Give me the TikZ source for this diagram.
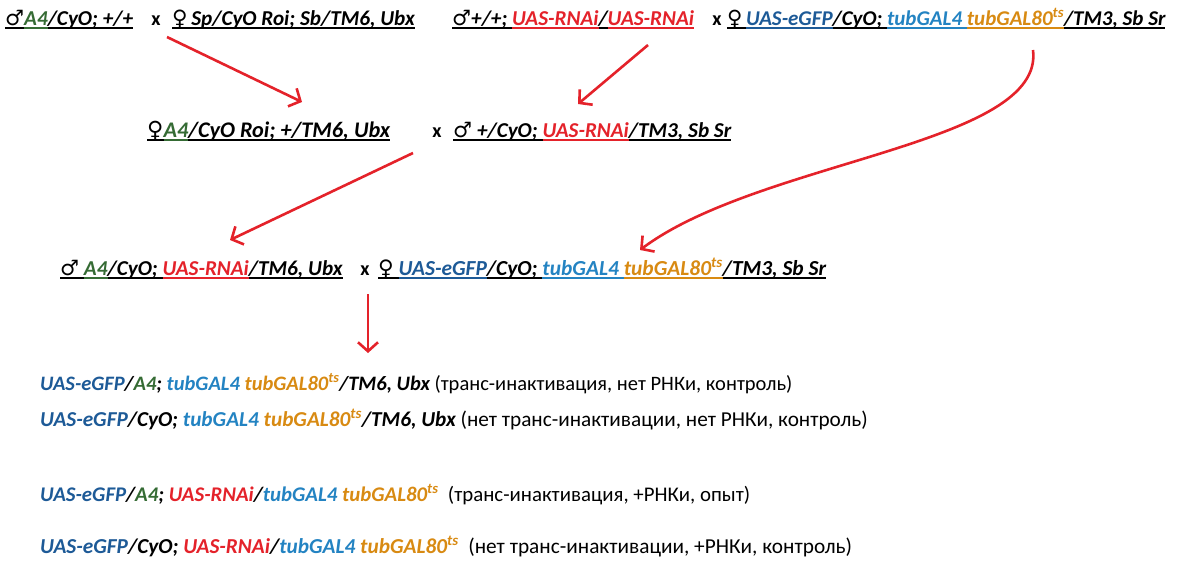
\documentclass[tikz,border=0pt]{standalone}
\usepackage{fontspec}
\setmainfont{Carlito}
\newfontfamily\symfont{DejaVu Sans}
\usetikzlibrary{arrows.meta}
\definecolor{cgreen}{HTML}{356B34}
\definecolor{cred}{HTML}{E4222A}
\definecolor{cdblue}{HTML}{1D5A97}
\definecolor{clblue}{HTML}{2383C2}
\definecolor{corange}{HTML}{D88A12}
\newcommand\ul[1]{\leavevmode\setbox0\hbox{#1}\rlap{\rule[-3.5pt]{\wd0}{1.3pt}}\box0}
\newcommand\sg[2]{{\color{#1}\ul{#2}}}
\newcommand\gmale{{\symfont\mdseries\upshape\char"2642}}
\newcommand\gfemale{{\symfont\mdseries\upshape\char"2640}}
\newcommand\tsup{\textsuperscript{ts}}
\begin{document}
\begin{tikzpicture}[x=1pt,y=-1pt,
  gt/.style={anchor=base west,inner sep=0pt,font=\fontsize{21.2}{25}\selectfont\bfseries\itshape},
  rt/.style={anchor=base west,inner sep=0pt,font=\fontsize{#1}{25}\selectfont\bfseries\itshape},
  xs/.style={anchor=base,inner sep=0pt,font=\fontsize{20}{25}\selectfont\bfseries},
  arr/.style={draw=cred,line width=2.6pt,-{Straight Barb[length=9pt,width=20pt,line width=2.6pt]}}]
\useasboundingbox (0,0) rectangle (1177,560);
% generation 1
\node[gt] (p1m) at (5,25) {\ul{\gmale}\sg{cgreen}{A4}\ul{/CyO; +/+}};
\node[xs] (x1) at (156,25) {x};
\node[gt] (p1f) at (172,25) {\ul{\gfemale\,Sp/CyO Roi; Sb/TM6, Ubx}};
\node[gt] (p2m) at (452,25) {\ul{\gmale+/+; }\sg{cred}{UAS-RNAi}\ul{/}\sg{cred}{UAS-RNAi}};
\node[xs] (x2) at (717,25) {x};
\node[gt,font=\fontsize{21}{25}\selectfont\bfseries\itshape] (p2f) at (727,25) {\ul{\gfemale\,}\sg{cdblue}{UAS-eGFP}\ul{/CyO; }\sg{clblue}{tubGAL4 }\sg{corange}{tubGAL80\tsup}\ul{/TM3, Sb Sr}};
% generation 2
\node[gt,font=\fontsize{22.3}{25}\selectfont\bfseries\itshape] (g2f) at (147,137) {\ul{\gfemale}\sg{cgreen}{A4}\ul{/CyO Roi; +/TM6, Ubx}};
\node[xs] (x3) at (437,137) {x};
\node[gt] (g2m) at (453,137) {\ul{\gmale\ +/CyO; }\sg{cred}{UAS-RNAi}\ul{/TM3, Sb Sr}};
% generation 3
\node[gt] (g3m) at (60,275) {\ul{\gmale\ }\sg{cgreen}{A4}\ul{/CyO; }\sg{cred}{UAS-RNAi}\ul{/TM6, Ubx}};
\node[xs] (x4) at (365,275) {x};
\node[gt,font=\fontsize{21.4}{25}\selectfont\bfseries\itshape] (g3f) at (378,275) {\ul{\gfemale\ }\sg{cdblue}{UAS-eGFP}\ul{/CyO; }\sg{clblue}{tubGAL4 }\sg{corange}{tubGAL80\tsup}\ul{/TM3, Sb Sr}};
% results
\node[rt=20.5] (r1) at (40,390) {{\color{cdblue}UAS-eGFP}/{\color{cgreen}A4}; {\color{clblue}tubGAL4} {\color{corange}tubGAL80\tsup}/TM6, Ubx {\normalfont(транс-инактивация, нет РНКи, контроль)}};
\node[rt=21.25] (r2) at (40,426) {{\color{cdblue}UAS-eGFP}/CyO; {\color{clblue}tubGAL4} {\color{corange}tubGAL80\tsup}/TM6, Ubx {\normalfont(нет транс-инактивации, нет РНКи, контроль)}};
\node[rt=20.85] (r3) at (40,501) {{\color{cdblue}UAS-eGFP}/{\color{cgreen}A4}; {\color{cred}UAS-RNAi}/{\color{clblue}tubGAL4} {\color{corange}tubGAL80\tsup}\ \ {\normalfont(транс-инактивация, +РНКи, опыт)}};
\node[rt=21.3] (r4) at (40,553) {{\color{cdblue}UAS-eGFP}/CyO; {\color{cred}UAS-RNAi}/{\color{clblue}tubGAL4} {\color{corange}tubGAL80\tsup}\ \ {\normalfont(нет транс-инактивации, +РНКи, контроль)}};
% arrow end points
\coordinate (a1s) at (167,37);  \coordinate (a1e) at (302,102);
\coordinate (a2s) at (648,45);  \coordinate (a2e) at (578,104);
\coordinate (a3s) at (1033,50); \coordinate (a3e) at (640,250);
\coordinate (a4s) at (413,153); \coordinate (a4e) at (230,240);
\coordinate (a5s) at (368,294); \coordinate (a5e) at (368,353);
\draw[arr] (a1s) -- (a1e);
\draw[arr] (a2s) -- (a2e);
\draw[arr] (a3s) .. controls (1045,145) and (760,160) .. (a3e);
\draw[arr] (a4s) -- (a4e);
\draw[arr] (a5s) -- (a5e);
\end{tikzpicture}
\end{document}
